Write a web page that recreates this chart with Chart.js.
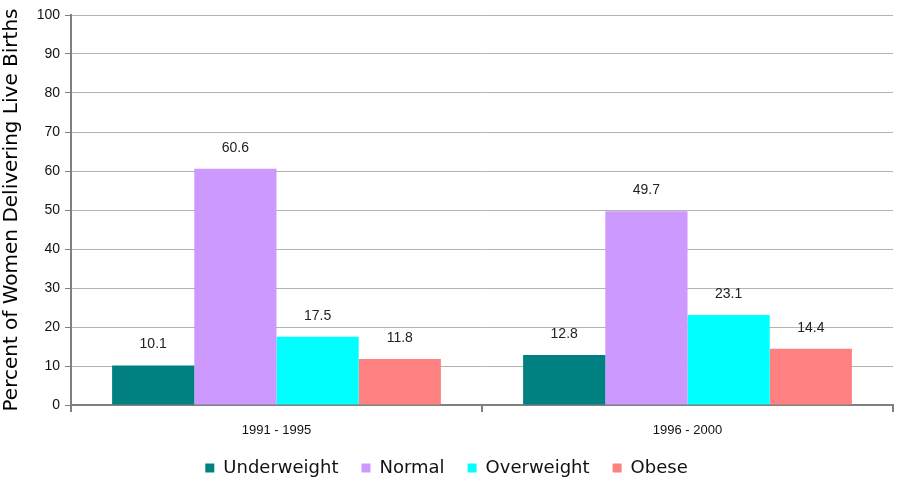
<!DOCTYPE html>
<html>
<head>
<meta charset="utf-8">
<script src="https://cdn.jsdelivr.net/npm/chart.js@4.4.0/dist/chart.umd.min.js"></script>
<style>
    html, body { margin: 0; padding: 0; background: #fff; }
    #wrap { width: 903px; height: 479px; }
</style>
</head>
<body>
<div id="wrap"><canvas id="chart" width="903" height="479"></canvas></div>
<script>
const periods = ['1991 - 1995', '1996 - 2000'];
const underweight = [10.1, 12.8];
const normal = [60.6, 49.7];
const overweight = [17.5, 23.1];
const obese = [11.8, 14.4];
const yTicks = [0, 10, 20, 30, 40, 50, 60, 70, 80, 90, 100];

const FONT = '"Liberation Sans", Arial, sans-serif';
const WIDE = '"DejaVu Sans", sans-serif';

// value labels above each bar
const barLabels = {
    id: 'barLabels',
    afterDatasetsDraw(chart) {
        const ctx = chart.ctx;
        ctx.save();
        ctx.font = '14px ' + FONT;
        ctx.fillStyle = '#222';
        ctx.textAlign = 'center';
        ctx.textBaseline = 'bottom';
        chart.data.datasets.forEach((ds, i) => {
            chart.getDatasetMeta(i).data.forEach((bar, j) => {
                ctx.fillText(ds.data[j].toFixed(1), bar.x, bar.y - 14);
            });
        });
        ctx.restore();
    }
};

new Chart(document.getElementById('chart'), {
    type: 'bar',
    data: {
        labels: periods,
        datasets: [
            { label: 'Underweight', data: underweight, backgroundColor: '#008080' },
            { label: 'Normal', data: normal, backgroundColor: '#CC99FF' },
            { label: 'Overweight', data: overweight, backgroundColor: '#00FFFF' },
            { label: 'Obese', data: obese, backgroundColor: '#FF8080' }
        ]
    },
    options: {
        responsive: false,
        animation: false,
        layout: { padding: { top: 15, right: 10, left: 0, bottom: -8 } },
        datasets: { bar: { categoryPercentage: 0.8, barPercentage: 1.0, borderWidth: 0 } },
        plugins: {
            legend: {
                position: 'bottom',
                labels: {
                    boxWidth: 9,
                    boxHeight: 9,
                    padding: 23,
                    color: '#111',
                    font: { family: WIDE, size: 18 }
                }
            },
            tooltip: { enabled: false }
        },
        scales: {
            x: {
                afterFit: scale => { scale.height = 31; },
                grid: { display: true, drawOnChartArea: false, drawTicks: true, tickLength: 7, color: '#808080', lineWidth: 2 },
                border: { color: '#808080', width: 2 },
                ticks: { color: '#111', padding: 11, font: { family: FONT, size: 13 } }
            },
            y: {
                min: 0,
                max: 100,
                afterBuildTicks: scale => { scale.ticks = yTicks.map(v => ({ value: v })); },
                afterFit: scale => { scale.width = 71; },
                grid: { color: '#b3b3b3', lineWidth: 1, tickLength: 6, tickColor: '#808080' },
                border: { color: '#808080', width: 2 },
                ticks: { color: '#111', padding: 5, font: { family: FONT, size: 14 } },
                title: {
                    display: true,
                    text: 'Percent of Women Delivering Live Births',
                    color: '#000',
                    padding: 0,
                    font: { family: WIDE, size: 20 }
                }
            }
        }
    },
    plugins: [barLabels]
});
</script>
</body>
</html>
